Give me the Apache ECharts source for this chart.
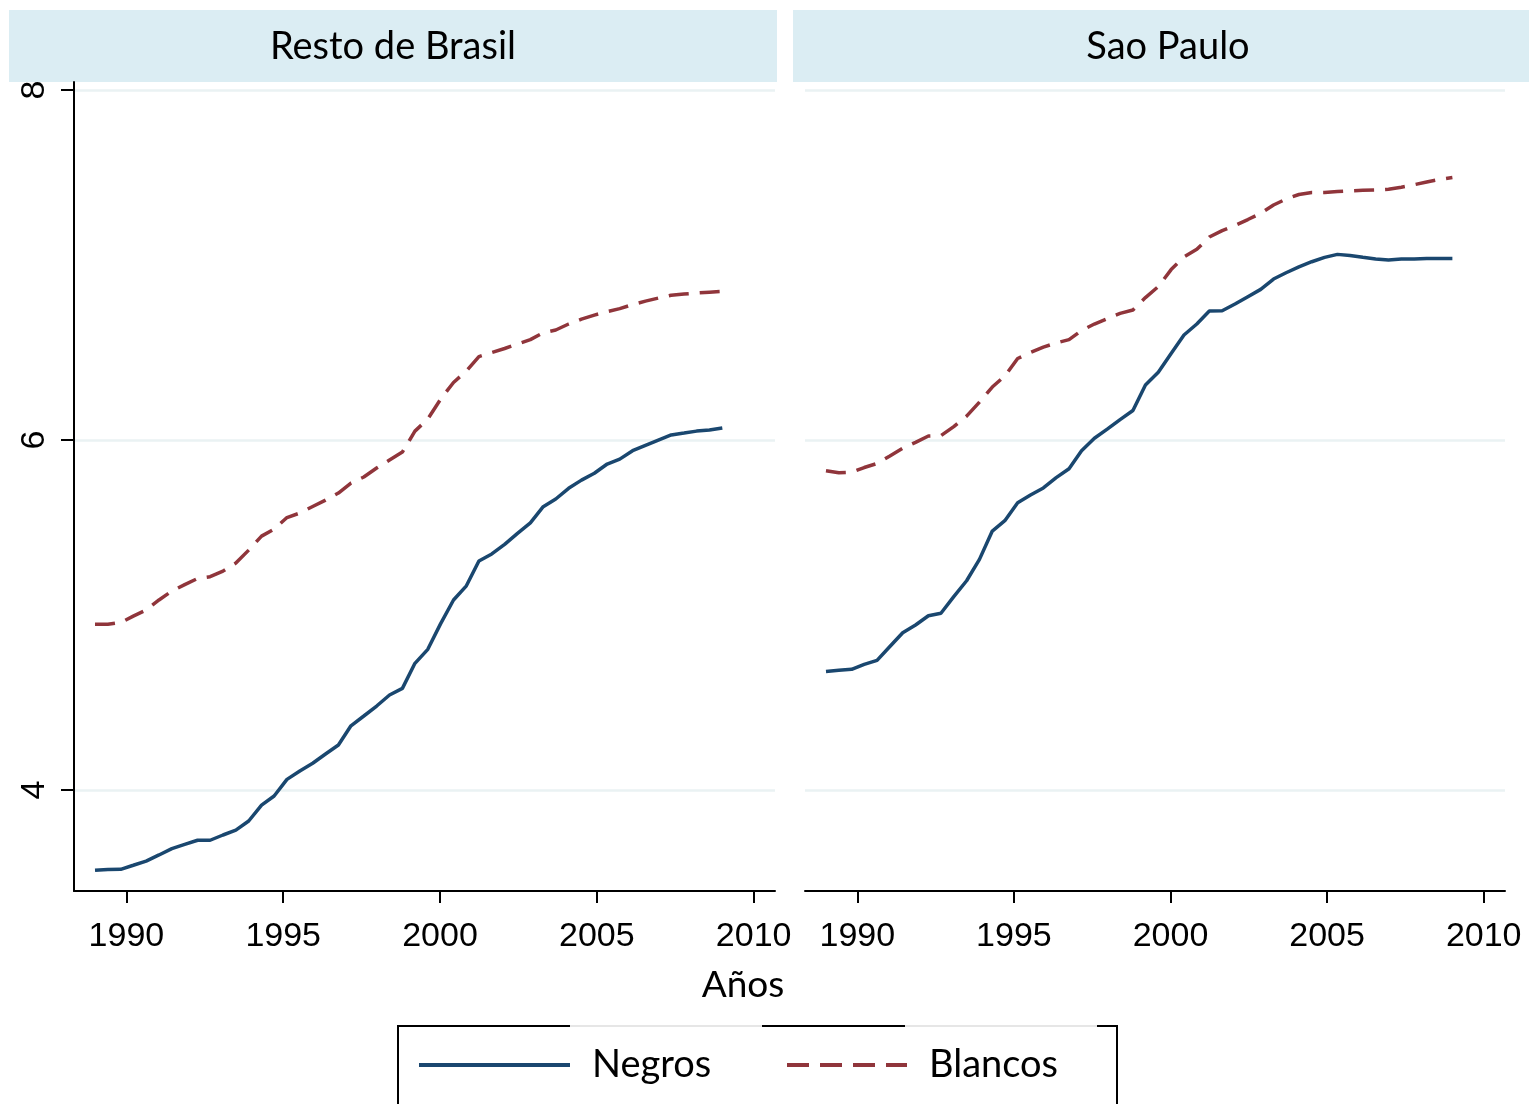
<!DOCTYPE html>
<html>
<head>
<meta charset="utf-8">
<script src="https://cdn.jsdelivr.net/npm/echarts@6/dist/echarts.min.js"></script>
<style>
html, body { margin: 0; padding: 0; background: #fff; }
#chart { width: 1529px; height: 1104px; }
</style>
</head>
<body>
<div id="chart"></div>
<script>
// datos (cada ~0.41 años)
var years = [1989.00, 1989.41, 1989.82, 1990.22, 1990.63, 1991.04, 1991.45, 1991.86, 1992.27, 1992.67,
    1993.08, 1993.49, 1993.90, 1994.31, 1994.71, 1995.12, 1995.53, 1995.94, 1996.35, 1996.76,
    1997.16, 1997.57, 1997.98, 1998.39, 1998.80, 1999.20, 1999.61, 2000.02, 2000.43, 2000.84,
    2001.24, 2001.65, 2002.06, 2002.47, 2002.88, 2003.29, 2003.69, 2004.10, 2004.51, 2004.92,
    2005.33, 2005.73, 2006.14, 2006.55, 2006.96, 2007.37, 2007.78, 2008.18, 2008.59, 2009.00];

var restoNegros = [3.541, 3.546, 3.547, 3.570, 3.594, 3.629, 3.665, 3.689, 3.713, 3.713,
    3.743, 3.771, 3.823, 3.914, 3.966, 4.061, 4.109, 4.153, 4.206, 4.257,
    4.367, 4.423, 4.480, 4.543, 4.581, 4.724, 4.804, 4.951, 5.086, 5.167,
    5.309, 5.349, 5.404, 5.467, 5.527, 5.619, 5.663, 5.724, 5.771, 5.810,
    5.863, 5.891, 5.939, 5.970, 6.000, 6.029, 6.040, 6.051, 6.057, 6.069];

var restoBlancos = [4.947, 4.947, 4.957, 4.994, 5.029, 5.086, 5.137, 5.174, 5.209, 5.219,
    5.251, 5.297, 5.371, 5.451, 5.491, 5.557, 5.583, 5.620, 5.657, 5.697,
    5.754, 5.789, 5.840, 5.886, 5.931, 6.051, 6.120, 6.234, 6.329, 6.394,
    6.477, 6.500, 6.523, 6.549, 6.574, 6.613, 6.629, 6.663, 6.691, 6.714,
    6.734, 6.751, 6.774, 6.794, 6.811, 6.827, 6.834, 6.840, 6.845, 6.849];

var spNegros = [4.678, 4.684, 4.690, 4.718, 4.741, 4.820, 4.899, 4.943, 4.996, 5.010,
    5.105, 5.196, 5.318, 5.480, 5.539, 5.642, 5.686, 5.726, 5.785, 5.836,
    5.939, 6.010, 6.062, 6.117, 6.169, 6.314, 6.387, 6.495, 6.600, 6.663,
    6.737, 6.739, 6.777, 6.819, 6.861, 6.920, 6.956, 6.990, 7.019, 7.044,
    7.061, 7.055, 7.044, 7.034, 7.029, 7.034, 7.034, 7.038, 7.038, 7.038];

var spBlancos = [5.825, 5.813, 5.816, 5.843, 5.866, 5.909, 5.953, 5.987, 6.023, 6.025,
    6.077, 6.137, 6.217, 6.303, 6.366, 6.466, 6.500, 6.531, 6.555, 6.574,
    6.626, 6.663, 6.694, 6.724, 6.743, 6.814, 6.877, 6.974, 7.046, 7.090,
    7.160, 7.197, 7.226, 7.260, 7.296, 7.343, 7.377, 7.403, 7.415, 7.415,
    7.420, 7.424, 7.427, 7.429, 7.433, 7.445, 7.459, 7.475, 7.489, 7.500];

var panelTitles = ['Resto de Brasil', 'Sao Paulo'];
var xTicks = [1990, 1995, 2000, 2005, 2010];
var yTicks = [4, 6, 8];

var navy = '#1a476f';
var maroon = '#90353b';
var gridColor = '#eaf2f3';
var headerColor = '#dbedf3';
var textFont = 'Lato';
var tickFont = 'Liberation Sans';

function pairs(xs, ys) {
    return xs.map(function (x, i) { return [x, ys[i]]; });
}

function makeX(idx) {
    return {
        type: 'value', gridIndex: idx, min: 1988.33, max: 2010.68,
        axisLine: { show: true, onZero: false, lineStyle: { color: '#000', width: 2 } },
        axisTick: { show: true, length: 12, customValues: xTicks, lineStyle: { color: '#000', width: 2 } },
        axisLabel: {
            customValues: xTicks, margin: 29, fontFamily: tickFont, fontSize: 34, color: '#000',
            formatter: function (v) { return String(v); }
        },
        splitLine: { show: false }
    };
}

function makeY(idx, visible) {
    return {
        type: 'value', gridIndex: idx, min: 3.423, max: 8.046,
        axisLine: { show: visible, lineStyle: { color: '#000', width: 2 } },
        axisTick: { show: visible, length: 13, customValues: yTicks, lineStyle: { color: '#000', width: 2 } },
        axisLabel: { show: visible, customValues: yTicks, rotate: 90, margin: 22, fontFamily: tickFont, fontSize: 34, color: '#000' },
        splitLine: { show: true, lineStyle: { color: gridColor, width: 2.5 } }
    };
}

function makeLine(name, idx, ys, color, dashed) {
    return {
        name: name, type: 'line', xAxisIndex: idx, yAxisIndex: idx,
        data: pairs(years, ys), symbol: 'none', smooth: false,
        lineStyle: { color: color, width: 3.5, type: dashed ? [20, 11] : 'solid' },
        itemStyle: { color: color },
        animation: false
    };
}

var legendText = { fontFamily: textFont, fontSize: 38, color: '#000', padding: [0, 0, 0, 17] };

var option = {
    backgroundColor: '#fff',
    animation: false,
    grid: [
        { left: 74, top: 82, width: 701, height: 809 },
        { left: 805, top: 82, width: 700, height: 809 }
    ],
    xAxis: [makeX(0), makeX(1)],
    yAxis: [makeY(0, true), makeY(1, false)],
    legend: [
        { data: ['Negros'], left: 417, top: 1046, itemWidth: 151, itemHeight: 20, selectedMode: false, padding: 0,
          itemStyle: { opacity: 0 }, lineStyle: { width: 4 }, textStyle: legendText },
        { data: ['Blancos'], left: 785, top: 1046, itemWidth: 120, itemHeight: 20, selectedMode: false, padding: 0,
          itemStyle: { opacity: 0 }, lineStyle: { width: 4, type: [22, 11] }, textStyle: legendText }
    ],
    series: [
        makeLine('Negros', 0, restoNegros, navy, false),
        makeLine('Blancos', 0, restoBlancos, maroon, true),
        makeLine('Negros', 1, spNegros, navy, false),
        makeLine('Blancos', 1, spBlancos, maroon, true)
    ],
    graphic: [
        { type: 'rect', shape: { x: 9, y: 10, width: 768, height: 72 }, style: { fill: headerColor }, silent: true },
        { type: 'rect', shape: { x: 793, y: 10, width: 736, height: 72 }, style: { fill: headerColor }, silent: true },
        { type: 'text', x: 393, y: 47, style: { text: panelTitles[0], font: '38px ' + textFont, fill: '#000', textAlign: 'center', textVerticalAlign: 'middle' }, silent: true },
        { type: 'text', x: 1168, y: 47, style: { text: panelTitles[1], font: '38px ' + textFont, fill: '#000', textAlign: 'center', textVerticalAlign: 'middle' }, silent: true },
        { type: 'text', x: 743, y: 985, style: { text: 'Años', font: '37px ' + textFont, fill: '#000', textAlign: 'center', textVerticalAlign: 'middle' }, silent: true },
        // marco de la leyenda
        { type: 'polyline', shape: { points: [[398, 1104], [398, 1026], [570, 1026]] }, style: { stroke: '#000', lineWidth: 2, fill: null }, silent: true },
        { type: 'line', shape: { x1: 570, y1: 1026, x2: 762, y2: 1026 }, style: { stroke: '#e6e6e6', lineWidth: 2 }, silent: true },
        { type: 'line', shape: { x1: 762, y1: 1026, x2: 905, y2: 1026 }, style: { stroke: '#000', lineWidth: 2 }, silent: true },
        { type: 'line', shape: { x1: 905, y1: 1026, x2: 1097, y2: 1026 }, style: { stroke: '#e6e6e6', lineWidth: 2 }, silent: true },
        { type: 'polyline', shape: { points: [[1097, 1026], [1117, 1026], [1117, 1104]] }, style: { stroke: '#000', lineWidth: 2, fill: null }, silent: true }
    ]
};

var myChart = echarts.init(document.getElementById('chart'));
myChart.setOption(option);
</script>
</body>
</html>
